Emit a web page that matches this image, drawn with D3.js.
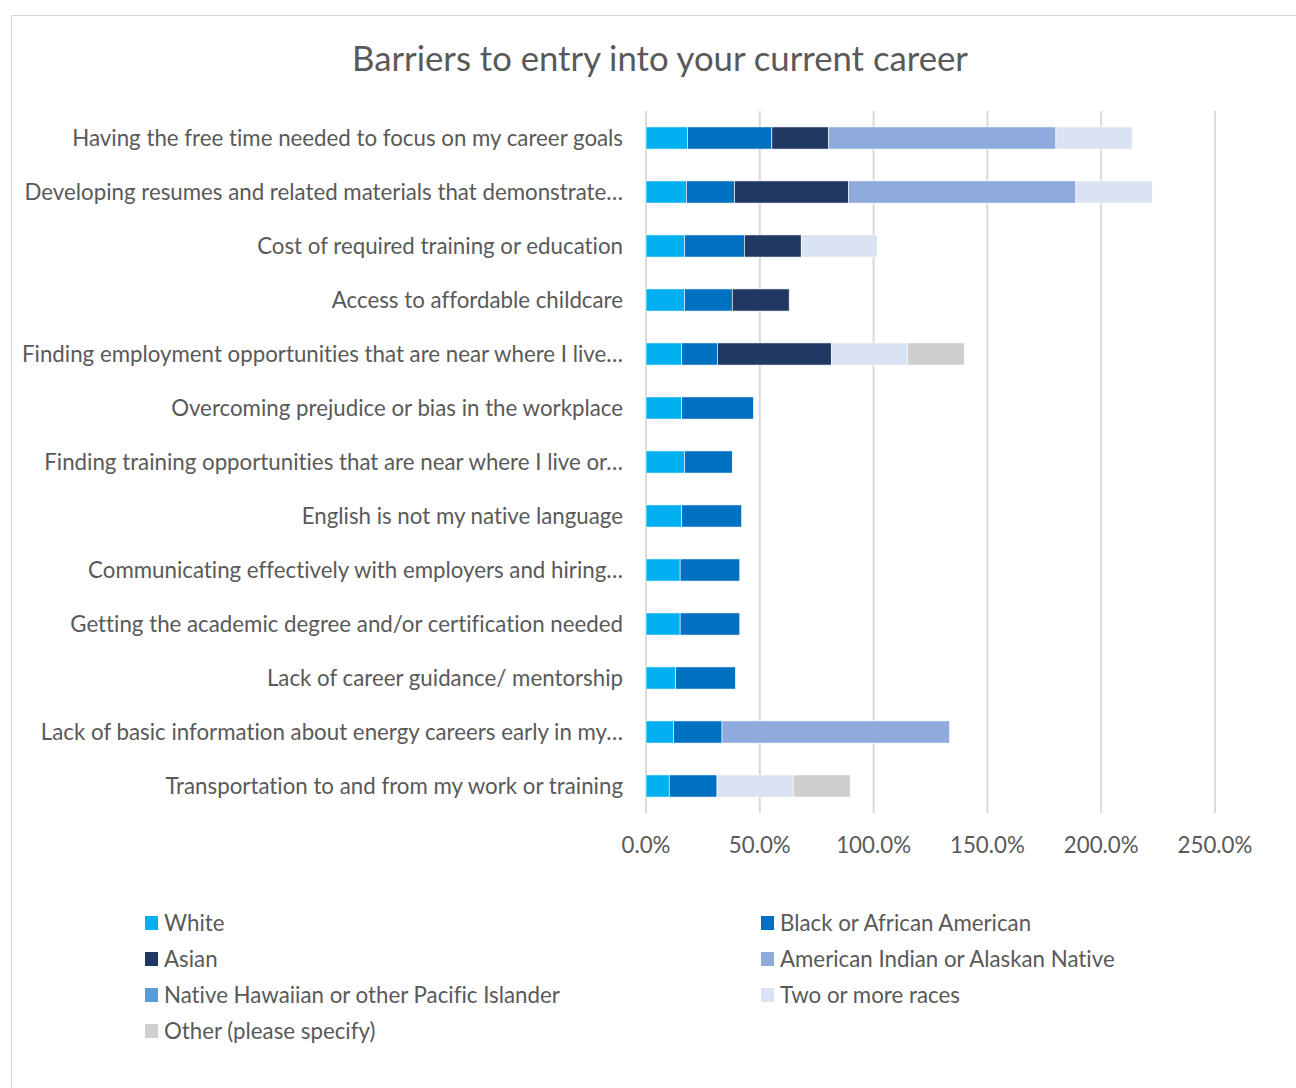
<!DOCTYPE html>
<html><head><meta charset="utf-8">
<script src="https://cdn.jsdelivr.net/npm/d3@7"></script>
<style>body{margin:0;background:#fff}svg{display:block}text{font-variant-ligatures:none}</style>
</head><body>
<script>
const categories = [
  "Having the free time needed to focus on my career goals",
  "Developing resumes and related materials that demonstrate…",
  "Cost of required training or education",
  "Access to affordable childcare",
  "Finding employment opportunities that are near where I live…",
  "Overcoming prejudice or bias in the workplace",
  "Finding training opportunities that are near where I live or…",
  "English is not my native language",
  "Communicating effectively with employers and hiring…",
  "Getting the academic degree and/or certification needed",
  "Lack of career guidance/ mentorship",
  "Lack of basic information about energy careers early in my…",
  "Transportation to and from my work or training"
];
const seriesNames = ["White","Black or African American","Asian","American Indian or Alaskan Native","Native Hawaiian or other Pacific Islander","Two or more races","Other (please specify)"];
const white    = [18.2,17.7,16.9,16.9,15.7,15.7,16.9,15.7,15.0,15.0,13.0,12.1,10.2];
const black    = [37.1,21.2,26.3,21.0,15.7,31.5,21.0,26.3,26.2,26.2,26.3,21.3,21.0];
const asian    = [24.8,50.0,25.0,25.0,50.0,0,0,0,0,0,0,0,0];
const amInd    = [100,100,0,0,0,0,0,0,0,0,0,100,0];
const nhpi     = [0,0,0,0,0,0,0,0,0,0,0,0,0];
const twoMore  = [33.5,33.5,33.4,0,33.4,0,0,0,0,0,0,0,33.5];
const other    = [0,0,0,0,25.0,0,0,0,0,0,0,0,25.0];
const seriesValues = [white,black,asian,amInd,nhpi,twoMore,other];
const colors = ["#00B0F0","#0070C0","#203864","#8FAADC","#5B9BD5","#DAE3F3","#D0CECE"];
const tickValues = [0,50,100,150,200,250];

const W=1296,H=1088;
const svg=d3.select("body").append("svg").attr("width",W).attr("height",H);
const FONT="Lato, 'Open Sans', sans-serif";
svg.append("rect").attr("x",11.5).attr("y",15.5).attr("width",W).attr("height",H).attr("fill","#fff").attr("stroke","#D9D9D9").attr("stroke-width",1);

svg.append("text").attr("x",660).attr("y",71).attr("text-anchor","middle")
  .attr("font-family",FONT).attr("font-size",34.7).attr("fill","#595959").text("Barriers to entry into your current career");

const x=d3.scaleLinear().domain([0,250]).range([646,1215]);
const y=d3.scaleBand().domain(categories).range([111,813]).paddingInner(0.59).paddingOuter(0.295);

// gridlines
svg.append("g").selectAll("line").data(tickValues).join("line")
  .attr("x1",d=>x(d)).attr("x2",d=>x(d)).attr("y1",111).attr("y2",813)
  .attr("stroke","#D9D9D9").attr("stroke-width",2);

// stacked data
const rows=categories.map((c,i)=>{const o={cat:c};seriesNames.forEach((s,j)=>o[s]=seriesValues[j][i]);return o;});
const stack=d3.stack().keys(seriesNames)(rows);
svg.append("g").selectAll("g").data(stack).join("g").attr("fill",(d,i)=>colors[i])
  .selectAll("rect").data(d=>d).join("rect")
  .attr("x",d=>x(d[0])).attr("width",d=>Math.max(0,x(d[1])-x(d[0])))
  .attr("y",d=>y(d.data.cat)).attr("height",y.bandwidth())
  .attr("stroke",d=>(d[1]-d[0])>0?"#fff":"none").attr("stroke-width",0.6);

// category labels
const lab=svg.append("g").selectAll("text").data(categories).join("text")
  .attr("x",623).attr("y",d=>y(d)+y.bandwidth()/2).attr("dy","0.35em")
  .attr("text-anchor","end").attr("font-family",FONT).attr("font-size",20).attr("fill","#595959").text(d=>d);
const w0=lab.nodes()[0].getComputedTextLength();
const fs=20*551/w0;
lab.attr("font-size",fs);

// x tick labels
svg.append("g").selectAll("text").data(tickValues).join("text")
  .attr("x",d=>x(d)).attr("y",845).attr("dy","0.35em").attr("text-anchor","middle")
  .attr("font-family",FONT).attr("font-size",fs).attr("fill","#595959").text(d=>d3.format(".1f")(d)+"%");

// legend
const legPos=[[145,923],[761,923],[145,959],[761,959],[145,995],[761,995],[145,1031]];
const lg=svg.append("g").selectAll("g").data(seriesNames).join("g")
  .attr("transform",(d,i)=>`translate(${legPos[i][0]},${legPos[i][1]})`);
lg.append("rect").attr("x",0).attr("y",-7).attr("width",13).attr("height",14).attr("fill",(d,i)=>colors[i]);
lg.append("text").attr("x",19).attr("y",0).attr("dy","0.35em").attr("font-family",FONT).attr("font-size",fs).attr("fill","#595959").text(d=>d);
</script>
</body></html>
